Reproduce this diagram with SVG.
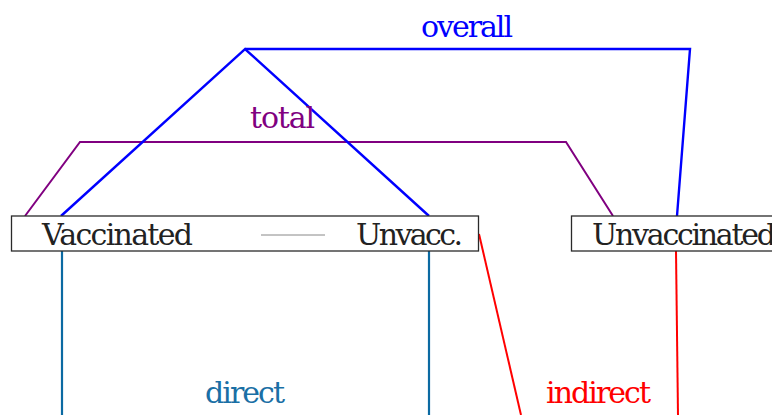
<svg xmlns="http://www.w3.org/2000/svg" width="772" height="415" viewBox="0 0 772 415" font-family="'DejaVu Serif', 'Liberation Serif', serif" font-size="30">
<style>
.box{fill:#fff;stroke:#2a2a2a;stroke-width:1.3}
.c{fill:none;stroke-linejoin:miter}
.blue{stroke:#0000ff;stroke-width:2.4}
.purple{stroke:#800080;stroke-width:2}
.teal{stroke:#0b6aa2;stroke-width:2.2}
.red{stroke:#ff0000;stroke-width:2}
</style>
<rect width="772" height="415" fill="#fff"/>
<g id="connectors">
<polyline class="c purple" points="25,216 80,142 566,142 613,216"/>
<polyline class="c blue" points="61,216 245,49 429,216"/>
<polyline class="c blue" points="245,49 690,49 677,216"/>
<line class="c teal" x1="62" y1="251" x2="62" y2="415"/>
<line class="c teal" x1="429" y1="251" x2="429" y2="415"/>
<line class="c red" x1="479" y1="234" x2="521" y2="415"/>
<line class="c red" x1="676" y1="251" x2="678" y2="415"/>
<text x="421" y="37" fill="#0000ff" textLength="92">overall</text>
<text x="250" y="128" fill="#800080" textLength="65">total</text>
<text x="205" y="403" fill="#1a6fa5" textLength="80">direct</text>
<text x="546" y="403" fill="#ff0000" textLength="105">indirect</text>
</g>
<g id="vaccinated-group">
<rect class="box" x="11.5" y="216" width="467" height="35"/>
<text x="42" y="245" fill="#222" textLength="151">Vaccinated</text>
<line x1="261" y1="235" x2="325" y2="235" stroke="#888" stroke-width="1"/>
<text x="356" y="245" fill="#222" textLength="107">Unvacc.</text>
</g>
<g id="unvaccinated-group">
<rect class="box" x="571.5" y="216" width="210" height="35"/>
<text x="592" y="245" fill="#222" textLength="184">Unvaccinated</text>
</g>
</svg>
